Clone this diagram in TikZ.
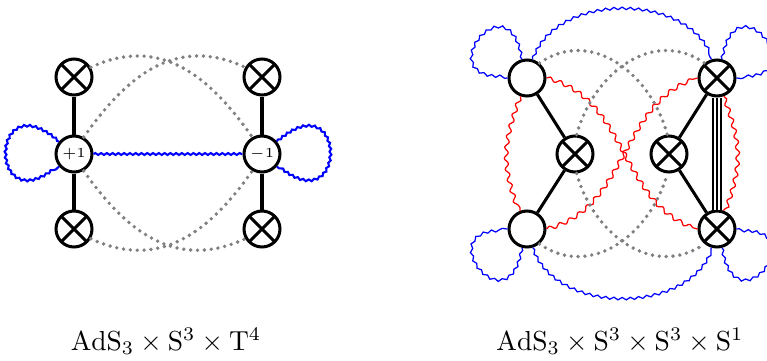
\documentclass[tikz,border=0pt]{standalone}
\usepackage{amsmath}
\usepackage{amssymb}
\usepackage{tikz}
\usetikzlibrary{decorations.pathmorphing,positioning}
\tikzstyle{vertex}=[circle, draw, line width=1.1pt, minimum size=4.6mm, inner sep=0pt, fill=white]
\tikzstyle{otimes}=[vertex, path picture={
    \draw[line width=1.1pt] (path picture bounding box.north west) -- (path picture bounding box.south east)
                            (path picture bounding box.south west) -- (path picture bounding box.north east);
}]
\tikzstyle{leg}=[line width=1.1pt]
\tikzstyle{dotline}=[gray, line width=1.4pt, line cap=round, dash pattern=on 0pt off 2.5pt]
\tikzstyle{bluewave}=[blue, line width=0.75pt, decorate, decoration={snake, amplitude=0.35pt, segment length=2.1pt}]
\tikzstyle{thinblue}=[blue, line width=0.45pt, decorate, decoration={snake, amplitude=0.45pt, segment length=3pt}]
\tikzstyle{thinred}=[red, line width=0.45pt, decorate, decoration={snake, amplitude=0.7pt, segment length=4pt}]

\begin{document}
\begin{tikzpicture}[x=1.2785mm, y=1.2785mm]
\useasboundingbox (0,0) rectangle (76.7,36);

% T4 : vertices
\node[otimes] (t1) at (7.4,28.3) {};
\node[vertex] (t2) at (7.4,20.6) {\tiny $+1$};
\node[otimes] (t3) at (7.4,13.1) {};
\node[otimes] (t4) at (26.2,28.3) {};
\node[vertex] (t5) at (26.2,20.6) {\tiny $-1$};
\node[otimes] (t6) at (26.2,13.1) {};

% T4 : lines
\draw[leg] (t1) -- (t2) -- (t3);
\draw[leg] (t4) -- (t5) -- (t6);
\draw[bluewave] (t2) -- (t5);
\draw[bluewave] (t2.140) .. controls +(-7,6) and +(-7,-6) .. (t2.220);
\draw[bluewave] (t5.40) .. controls +(7,6) and +(7,-6) .. (t5.-40);
\draw[dotline] (t1.30) to[out=25,in=125,looseness=1.1] (t5.120);
\draw[dotline] (t2.60) to[out=55,in=155,looseness=1.1] (t4.150);
\draw[dotline] (t3.-30) to[out=-25,in=-125,looseness=1.1] (t5.-120);
\draw[dotline] (t2.-60) to[out=-55,in=-155,looseness=1.1] (t6.-150);

% S3 x S3 x S1 : vertices
\node[vertex] (s1) at (52.7,28.2) {};
\node[otimes] (s2) at (57.5,20.6) {};
\node[vertex] (s3) at (52.7,13.1) {};
\node[otimes] (s4) at (71.7,28.2) {};
\node[otimes] (s5) at (66.9,20.6) {};
\node[otimes] (s6) at (71.7,13.1) {};

% S3 x S3 x S1 : lines
\draw[leg] (s1) -- (s2) -- (s3);
\draw[leg] (s4) -- (s5) -- (s6);
\draw[line width=3.8pt] (s4) -- (s6);
\draw[white, line width=2.4pt] (s4) -- (s6);
\draw[line width=0.9pt] (s4) -- (s6);

% blue
\draw[thinblue] (s1.105) .. controls +(100:8.2) and +(185:8.2) .. (s1.180);
\draw[thinblue] (s3.-105) .. controls +(-100:8.2) and +(-185:8.2) .. (s3.180);
\draw[thinblue] (s4.75) .. controls +(80:8.2) and +(-5:8.2) .. (s4.0);
\draw[thinblue] (s6.-75) .. controls +(-80:8.2) and +(5:8.2) .. (s6.0);
\draw[thinblue] (s1.73) to[out=70,in=110] (s4.107);
\draw[thinblue] (s3.-73) to[out=-70,in=-110] (s6.-107);

% red
\draw[thinred] (s1.250) to[out=250,in=110,looseness=1.15] (s3.110);
\draw[thinred] (s4.-70) to[out=-70,in=70,looseness=1.15] (s6.70);
\draw[thinred] (s1.east) to[out=-15,in=165] (s6.west);
\draw[thinred] (s3.east) to[out=15,in=195] (s4.west);

% gray
\draw[dotline] (s1.50) to[out=35,in=105,looseness=1.1] (s5.95);
\draw[dotline] (s2.85) to[out=75,in=145,looseness=1.1] (s4.130);
\draw[dotline] (s3.-50) to[out=-35,in=-105,looseness=1.1] (s5.-95);
\draw[dotline] (s2.-85) to[out=-75,in=-145,looseness=1.1] (s6.-130);

% labels
\node[anchor=base] (lab1) at (16.6,1.0) {$\mathrm{AdS}_3\times\mathrm{S}^3\times\mathrm{T}^4$};
\node[anchor=base] (lab2) at (62.0,1.0) {$\mathrm{AdS}_3\times\mathrm{S}^3\times\mathrm{S}^3\times\mathrm{S}^1$};

\end{tikzpicture}
\end{document}
